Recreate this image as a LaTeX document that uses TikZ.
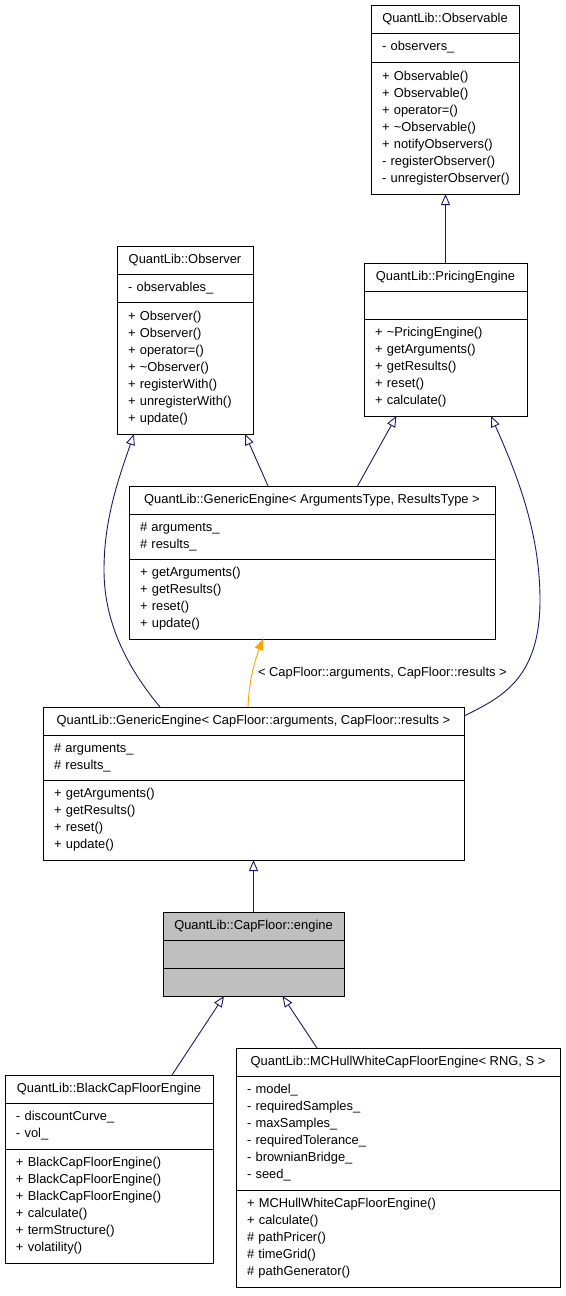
\documentclass[tikz,border=0pt]{standalone}
\usepackage{fontspec}
\setmainfont{Liberation Sans}
\usetikzlibrary{arrows.meta,calc}
\definecolor{edgeblue}{HTML}{191970}
\definecolor{edgeorange}{HTML}{FFA500}
\definecolor{boxgray}{HTML}{BFBFBF}
\newcommand\mlines[1]{\begin{tabular}{@{}l@{}}#1\end{tabular}}
\begin{document}
\begin{tikzpicture}[x=1pt,y=-1pt,
  every node/.style={font=\fontsize{12.9}{17}\selectfont, inner sep=0pt, outer sep=0pt},
  ttl/.style={draw=black, line width=0.9pt, fill=white, anchor=north west, minimum height=28pt, align=center},
  sec/.style={draw=black, line width=0.9pt, fill=white, anchor=north west, align=left},
  gray box/.style={fill=boxgray},
  inh/.style={draw=edgeblue, line width=0.9pt, -{Triangle[length=11pt,width=9pt,fill=white]}},
  tmpl/.style={draw=edgeorange, line width=0.9pt, -{Triangle[length=11pt,width=9pt,fill=edgeorange]}}]
\useasboundingbox (0,0) rectangle (565,1296);

% QuantLib::Observable
\node[ttl, minimum width=148pt] (obsT) at (371,5) {QuantLib::Observable};
\node[sec, minimum width=148pt, text width=126pt, minimum height=29pt] (obsA) at (obsT.south west) {\mlines{- observers\_}};
\node[sec, minimum width=148pt, text width=126pt, minimum height=132pt] (obsM) at (obsA.south west)
  {\mlines{+ Observable()\\+ Observable()\\+ operator=()\\+ \textasciitilde Observable()\\+ notifyObservers()\\- registerObserver()\\- unregisterObserver()}};

% QuantLib::Observer
\node[ttl, minimum width=136pt] (obrT) at (117,246) {QuantLib::Observer};
\node[sec, minimum width=136pt, text width=114pt, minimum height=28pt] (obrA) at (obrT.south west) {\mlines{- observables\_}};
\node[sec, minimum width=136pt, text width=114pt, minimum height=132pt] (obrM) at (obrA.south west)
  {\mlines{+ Observer()\\+ Observer()\\+ operator=()\\+ \textasciitilde Observer()\\+ registerWith()\\+ unregisterWith()\\+ update()}};

% QuantLib::PricingEngine
\node[ttl, minimum width=163pt] (peT) at (364,263) {QuantLib::PricingEngine};
\node[sec, minimum width=163pt, text width=141pt, minimum height=28pt] (peA) at (peT.south west) {};
\node[sec, minimum width=163pt, text width=141pt, minimum height=97pt] (peM) at (peA.south west)
  {\mlines{+ \textasciitilde PricingEngine()\\+ getArguments()\\+ getResults()\\+ reset()\\+ calculate()}};

% QuantLib::GenericEngine< ArgumentsType, ResultsType >
\node[ttl, minimum width=366pt] (gaT) at (129,486) {QuantLib::GenericEngine< ArgumentsType, ResultsType >};
\node[sec, minimum width=366pt, text width=344pt, minimum height=45pt] (gaA) at (gaT.south west) {\mlines{\# arguments\_\\\# results\_}};
\node[sec, minimum width=366pt, text width=344pt, minimum height=80pt] (gaM) at (gaA.south west)
  {\mlines{+ getArguments()\\+ getResults()\\+ reset()\\+ update()}};

% QuantLib::GenericEngine< CapFloor::arguments, CapFloor::results >
\node[ttl, minimum width=421pt] (gcT) at (43,707) {QuantLib::GenericEngine< CapFloor::arguments, CapFloor::results >};
\node[sec, minimum width=421pt, text width=399pt, minimum height=45pt] (gcA) at (gcT.south west) {\mlines{\# arguments\_\\\# results\_}};
\node[sec, minimum width=421pt, text width=399pt, minimum height=80pt] (gcM) at (gcA.south west)
  {\mlines{+ getArguments()\\+ getResults()\\+ reset()\\+ update()}};

% QuantLib::CapFloor::engine
\node[ttl, gray box, minimum width=181pt] (cfT) at (163,912) {QuantLib::CapFloor::engine};
\node[sec, gray box, minimum width=181pt, minimum height=28pt] (cfA) at (cfT.south west) {};
\node[sec, gray box, minimum width=181pt, minimum height=28pt] (cfM) at (cfA.south west) {};

% QuantLib::BlackCapFloorEngine
\node[ttl, minimum width=208pt] (bkT) at (5,1075) {QuantLib::BlackCapFloorEngine};
\node[sec, minimum width=208pt, text width=186pt, minimum height=46pt] (bkA) at (bkT.south west) {\mlines{- discountCurve\_\\- vol\_}};
\node[sec, minimum width=208pt, text width=186pt, minimum height=114pt] (bkM) at (bkA.south west)
  {\mlines{+ BlackCapFloorEngine()\\+ BlackCapFloorEngine()\\+ BlackCapFloorEngine()\\+ calculate()\\+ termStructure()\\+ volatility()}};

% QuantLib::MCHullWhiteCapFloorEngine< RNG, S >
\node[ttl, minimum width=324pt] (mcT) at (236,1048) {QuantLib::MCHullWhiteCapFloorEngine< RNG, S >};
\node[sec, minimum width=324pt, text width=302pt, minimum height=114pt] (mcA) at (mcT.south west)
  {\mlines{- model\_\\- requiredSamples\_\\- maxSamples\_\\- requiredTolerance\_\\- brownianBridge\_\\- seed\_}};
\node[sec, minimum width=324pt, text width=302pt, minimum height=97pt] (mcM) at (mcA.south west)
  {\mlines{+ MCHullWhiteCapFloorEngine()\\+ calculate()\\\# pathPricer()\\\# timeGrid()\\\# pathGenerator()}};

% connectors
\draw[inh] (peT.north) -- (peT.north |- obsM.south);
\draw[inh] ([xshift=139pt]gaT.north west) -- ([xshift=128pt]obrM.south west);
\draw[inh] ([xshift=228.5pt]gaT.north west) -- ([xshift=32.5pt]peM.south west);
\draw[inh] ([xshift=117pt]gcT.north west) .. controls (125,665) and (104,620) .. (104,570)
  .. controls (104,520) and (118,480) .. ([xshift=17pt]obrM.south west);
\draw[inh] ([yshift=-9pt]gcT.north east) .. controls (500,698) and (540,680) .. (540,600)
  .. controls (540,530) and (515,470) .. ([xshift=127pt]peM.south west);
\draw[tmpl] ([xshift=205pt]gcT.north west) .. controls (249,680) and (255,660) .. ([xshift=134pt]gaM.south west);
\node[anchor=west] (lbl) at (258,673) {< CapFloor::arguments, CapFloor::results >};
\draw[inh] (cfT.north) -- (cfT.north |- gcM.south);
\draw[inh] ([xshift=167pt]bkT.north west) -- ([xshift=61pt]cfM.south west);
\draw[inh] ([xshift=81pt]mcT.north west) -- ([xshift=119.5pt]cfM.south west);
\end{tikzpicture}
\end{document}
